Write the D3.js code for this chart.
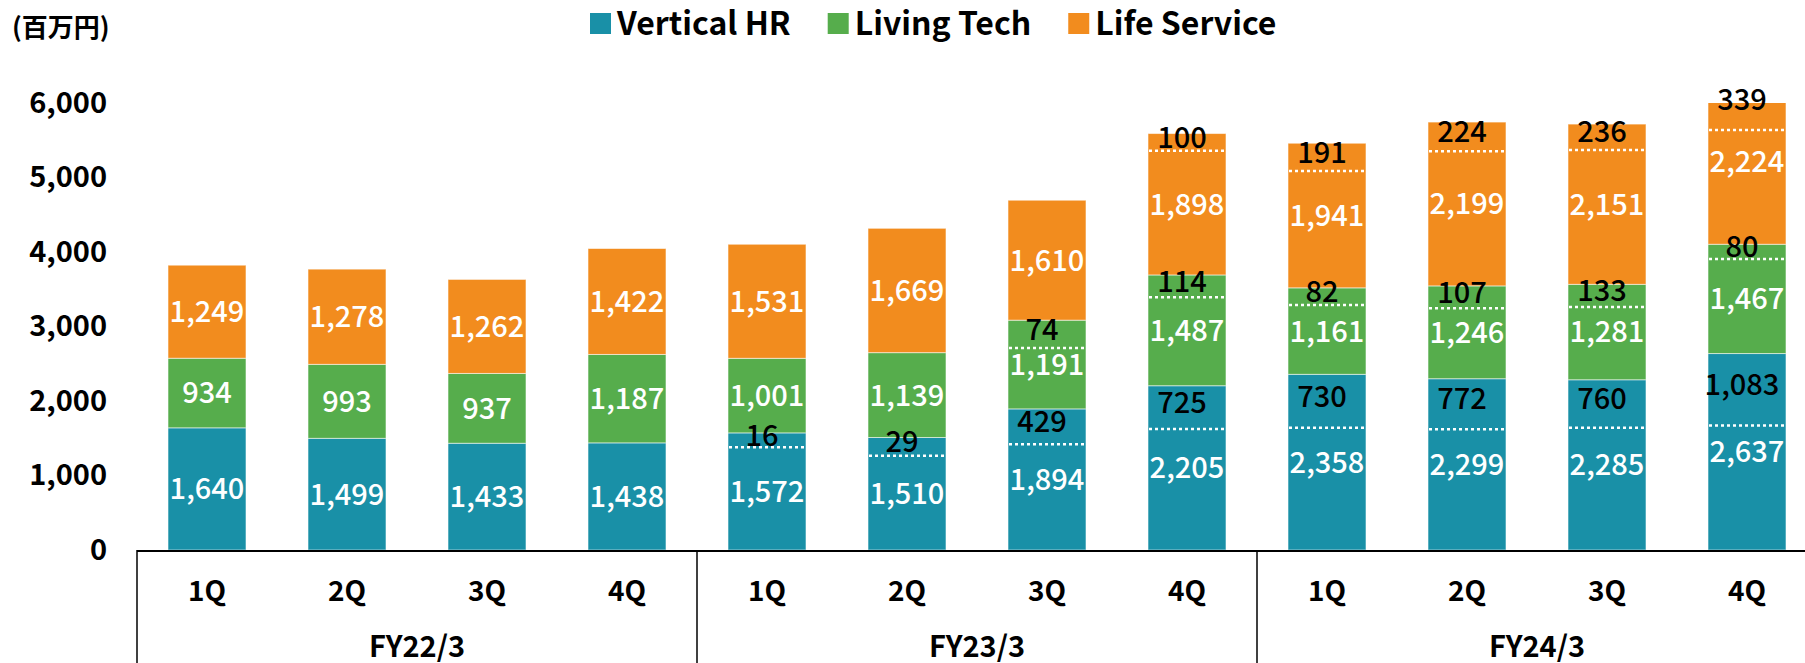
<!DOCTYPE html>
<html><head><meta charset="utf-8">
<script src="https://cdn.jsdelivr.net/npm/d3@7"></script>
<style>html,body{margin:0;padding:0;background:#fff;overflow:hidden}</style>
</head><body><svg id="chart" width="1805" height="663"></svg>
<script>
const fiscalYears = ["FY22/3", "FY23/3", "FY24/3"];
const quarters = ["1Q", "2Q", "3Q", "4Q"];
const seriesNames = ["Vertical HR", "Living Tech", "Life Service"];
const verticalHR = [1640, 1499, 1433, 1438, 1572, 1510, 1894, 2205, 2358, 2299, 2285, 2637];
const livingTech = [934, 993, 937, 1187, 1001, 1139, 1191, 1487, 1161, 1246, 1281, 1467];
const lifeService = [1249, 1278, 1262, 1422, 1531, 1669, 1610, 1898, 1941, 2199, 2151, 2224];
const verticalHRSub = [null, null, null, null, 16, 29, 429, 725, 730, 772, 760, 1083];
const livingTechSub = [null, null, null, null, null, null, 74, 114, 82, 107, 133, 80];
const lifeServiceSub = [null, null, null, null, null, null, null, 100, 191, 224, 236, 339];
// level (百万円) of the dotted divider lines
const verticalHRLine = [null, null, null, null, 1379, 1266, 1419, 1625, 1640, 1620, 1640, 1670];
const livingTechLine = [null, null, null, null, null, null, 2711, 3392, 3289, 3244, 3262, 3906];
const lifeServiceLine = [null, null, null, null, null, null, null, 5358, 5087, 5352, 5369, 5638];
const yTicks = [0, 1000, 2000, 3000, 4000, 5000, 6000];
const unitLabel = "(百万円)";
const colors = ["#1990A7", "#56AD4C", "#F28C1E"];

const svg = d3.select("#chart");
const FONT = "'Noto Sans CJK JP', 'Liberation Sans', sans-serif";
const n = verticalHR.length;
const rows = d3.range(n).map(i => ({i, v0: verticalHR[i], v1: livingTech[i], v2: lifeService[i]}));
const keys = ["v0", "v1", "v2"];
const subs = [verticalHRSub, livingTechSub, lifeServiceSub];
const lines = [verticalHRLine, livingTechLine, lifeServiceLine];
const stacked = d3.stack().keys(keys)(rows);

const x = d3.scaleBand().domain(d3.range(n)).range([137, 1817]).paddingInner(0.443).paddingOuter(0.2215);
const y = d3.scaleLinear().domain([0, 6000]).range([550, 103]);

svg.append("defs").append("clipPath").attr("id", "plotClip")
  .append("rect").attr("x", 0).attr("width", 1805).attr("y", y(6000)).attr("height", y(0) - y(6000));

const plot = svg.append("g").attr("clip-path", "url(#plotClip)");
stacked.forEach((layer, k) => {
  plot.append("g").selectAll("rect").data(layer).join("rect")
    .attr("x", d => x(d.data.i))
    .attr("width", x.bandwidth())
    .attr("y", d => y(d[1]))
    .attr("height", d => y(d[0]) - y(d[1]))
    .attr("fill", colors[k])
    .attr("stroke", "rgba(255,255,255,0.55)")
    .attr("stroke-width", 1);
});

// dotted divider lines
stacked.forEach((layer, k) => {
  const data = layer.filter(d => lines[k][d.data.i] != null);
  svg.append("g").selectAll("line").data(data).join("line")
    .attr("x1", d => x(d.data.i) + 1)
    .attr("x2", d => x(d.data.i) + x.bandwidth() - 1)
    .attr("y1", d => y(lines[k][d.data.i]))
    .attr("y2", d => y(lines[k][d.data.i]))
    .attr("stroke", "#fff").attr("stroke-width", 2.5).attr("stroke-dasharray", "3,3");
});

const fmt = d3.format(",");
// main white labels
stacked.forEach((layer, k) => {
  svg.append("g").selectAll("text").data(layer).join("text")
    .attr("x", d => x(d.data.i) + x.bandwidth() / 2)
    .attr("y", d => (y(d[0]) + y(d[1])) / 2)
    .attr("dy", "0.36em")
    .attr("text-anchor", "middle")
    .attr("fill", "#fff")
    .style("font-family", FONT).style("font-size", "29px").style("font-weight", "500")
    .text(d => fmt(d.data["v" + k]));
});
// black sub labels
stacked.forEach((layer, k) => {
  const data = layer.filter(d => subs[k][d.data.i] != null);
  svg.append("g").selectAll("text").data(data).join("text")
    .attr("x", d => x(d.data.i) + x.bandwidth() / 2 - 5)
    .attr("y", d => (y(lines[k][d.data.i]) + y(d[1])) / 2 - 5)
    .attr("dy", "0.36em")
    .attr("text-anchor", "middle")
    .attr("fill", "#000")
    .style("font-family", FONT).style("font-size", "29px").style("font-weight", "500")
    .text(d => fmt(subs[k][d.data.i]));
});

// y axis labels
const yAxis = svg.append("g").attr("transform", "translate(137,0)")
  .call(d3.axisLeft(y).tickValues(yTicks).tickFormat(fmt).tickSize(0).tickPadding(30));
yAxis.select(".domain").remove();
yAxis.selectAll("text").style("font-family", FONT).style("font-size", "29px").style("font-weight", "bold").attr("fill", "#000");

// x axis frame
const step = x.step();
const gap = (step - x.bandwidth()) / 2;
svg.append("line").attr("x1", 137).attr("x2", 1805).attr("y1", y(0) + 1).attr("y2", y(0) + 1)
  .attr("stroke", "#000").attr("stroke-width", 2);
const groupStarts = fiscalYears.map((fy, g) => x(g * 4) - gap);
svg.append("g").selectAll("line").data(groupStarts).join("line")
  .attr("x1", d => d).attr("x2", d => d).attr("y1", y(0)).attr("y2", 663)
  .attr("stroke", "#000").attr("stroke-width", 1.5);
svg.append("g").selectAll("text").data(d3.range(n)).join("text")
  .attr("x", i => x(i) + x.bandwidth() / 2).attr("y", 591).attr("dy", "0.36em")
  .attr("text-anchor", "middle")
  .style("font-family", FONT).style("font-size", "28px").style("font-weight", "bold")
  .text(i => quarters[i % 4]);
svg.append("g").selectAll("text").data(fiscalYears).join("text")
  .attr("x", (fy, g) => x(g * 4) - gap + step * 2).attr("y", 647).attr("dy", "0.36em")
  .attr("text-anchor", "middle")
  .style("font-family", FONT).style("font-size", "29px").style("font-weight", "bold")
  .text(d => d);

// unit label
svg.append("text").attr("x", 12).attr("y", 28).attr("dy", "0.36em")
  .style("font-family", FONT).style("font-size", "26px").style("font-weight", "bold")
  .text(unitLabel);

// legend
const legend = svg.append("g");
let lx = 590;
seriesNames.forEach((name, k) => {
  legend.append("rect").attr("x", lx).attr("y", 13).attr("width", 21).attr("height", 21).attr("fill", colors[k]);
  const t = legend.append("text").attr("x", lx + 27).attr("y", 23.5).attr("dy", "0.36em")
    .style("font-family", FONT).style("font-size", "32px").style("font-weight", "bold").text(name);
  lx += 27 + t.node().getComputedTextLength() + 37;
});
</script></body></html>
